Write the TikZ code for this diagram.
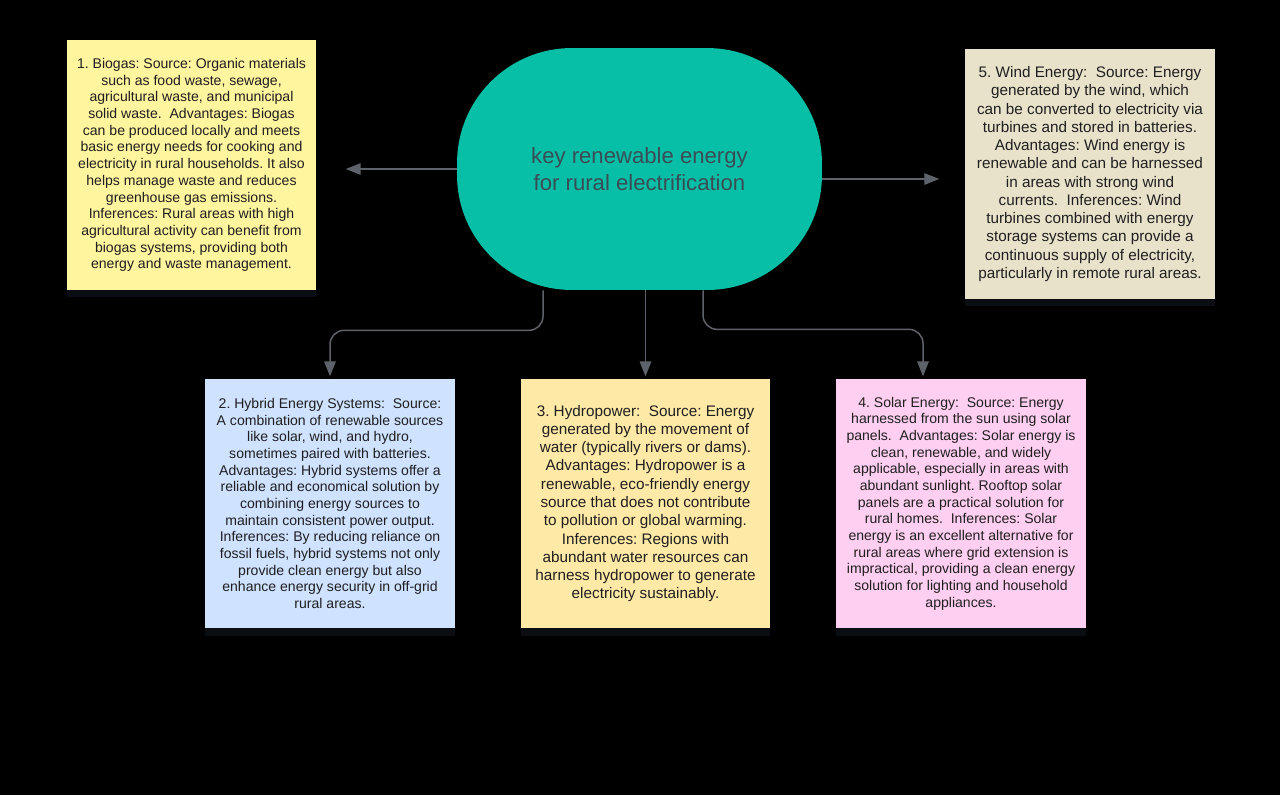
\documentclass[tikz,border=0pt]{standalone}
\usepackage{fontspec}
\setmainfont{Liberation Sans}
\frenchspacing
\usetikzlibrary{arrows.meta,calc,shadows}
\definecolor{hubfill}{HTML}{06BFA6}
\definecolor{hubtext}{HTML}{3A4C56}
\definecolor{biofill}{HTML}{FFF59E}
\definecolor{windfill}{HTML}{E9E2CA}
\definecolor{hybfill}{HTML}{CFE2FF}
\definecolor{hydrofill}{HTML}{FFE9A6}
\definecolor{solarfill}{HTML}{FFCFF1}
\definecolor{linkgray}{HTML}{5E636B}
\definecolor{shade}{HTML}{131822}

\begin{document}
\begin{tikzpicture}[x=0.02cm,y=-0.02cm,
  note/.style={rectangle,minimum width=5cm,minimum height=5cm,inner sep=0pt,
    align=center,text=black!88,font=\fontsize{8}{9.5}\selectfont,
    drop shadow={shadow xshift=0pt,shadow yshift=-4pt,fill=shade,opacity=.55}},
  bignote/.style={note,font=\fontsize{8.7}{10.4}\selectfont},
  hub/.style={rectangle,rounded corners=2.3cm,fill=hubfill,minimum width=7.3cm,
    minimum height=4.84cm,align=center,text=hubtext,
    font=\fontsize{12.6}{15.3}\selectfont},
  link/.style={draw=linkgray,line width=.85pt,shorten >=1pt,
    -{Triangle[length=8.5pt,width=6.5pt]}}]
  \fill[black] (0,0) rectangle (1280,795);
  \node[hub] (hub) at (639.5,169) {key renewable energy\\for rural electrification};
  \node[note,fill=biofill] (bio) at (191.5,165) {1. Biogas: Source: Organic materials\\
    such as food waste, sewage,\\agricultural waste, and municipal\\
    solid waste. \ Advantages: Biogas\\can be produced locally and meets\\
    basic energy needs for cooking and\\electricity in rural households. It also\\
    helps manage waste and reduces\\greenhouse gas emissions.\\
    Inferences: Rural areas with high\\agricultural activity can benefit from\\
    biogas systems, providing both\\energy and waste management.};
  \node[bignote,fill=windfill] (wind) at (1090,174) {5. Wind Energy: \ Source: Energy\\
    generated by the wind, which\\can be converted to electricity via\\
    turbines and stored in batteries.\\Advantages: Wind energy is\\
    renewable and can be harnessed\\in areas with strong wind\\
    currents. \ Inferences: Wind\\turbines combined with energy\\
    storage systems can provide a\\continuous supply of electricity,\\
    particularly in remote rural areas.};
  \node[note,fill=hybfill] (hyb) at (330,503.5) {2. Hybrid Energy Systems: \ Source:\\
    A combination of renewable sources\\like solar, wind, and hydro,\\
    sometimes paired with batteries.\\Advantages: Hybrid systems offer a\\
    reliable and economical solution by\\combining energy sources to\\
    maintain consistent power output.\\Inferences: By reducing reliance on\\
    fossil fuels, hybrid systems not only\\provide clean energy but also\\
    enhance energy security in off-grid\\rural areas.};
  \node[bignote,fill=hydrofill] (hydro) at (645.5,503.5) {3. Hydropower: \ Source: Energy\\
    generated by the movement of\\water (typically rivers or dams).\\
    Advantages: Hydropower is a\\renewable, eco-friendly energy\\
    source that does not contribute\\to pollution or global warming.\\
    Inferences: Regions with\\abundant water resources can\\
    harness hydropower to generate\\electricity sustainably.};
  \node[note,fill=solarfill] (solar) at (961,503.5) {4. Solar Energy: \ Source: Energy\\
    harnessed from the sun using solar\\panels. \ Advantages: Solar energy is\\
    clean, renewable, and widely\\applicable, especially in areas with\\
    abundant sunlight. Rooftop solar\\panels are a practical solution for\\
    rural homes. \ Inferences: Solar\\energy is an excellent alternative for\\
    rural areas where grid extension is\\impractical, providing a clean energy\\
    solution for lighting and household\\appliances.};
  \coordinate (tipL) at (344,169);
  \coordinate (tipR) at (941,179);
  \draw[link] (hub.west) -- (tipL);
  \draw[link] (tipR -| hub.east) -- (tipR);
  \draw[link,rounded corners=8] ($(hub.south)+(-96.5,0)$) -- ++(0,40) -| (hyb.north);
  \draw[link] (hydro.north |- hub.south) -- (hydro.north);
  \draw[link,rounded corners=8] ($(hub.south)+(63.5,0)$) -- ++(0,39)
    -| ($(solar.north)+(-38,0)$);
\end{tikzpicture}
\end{document}
